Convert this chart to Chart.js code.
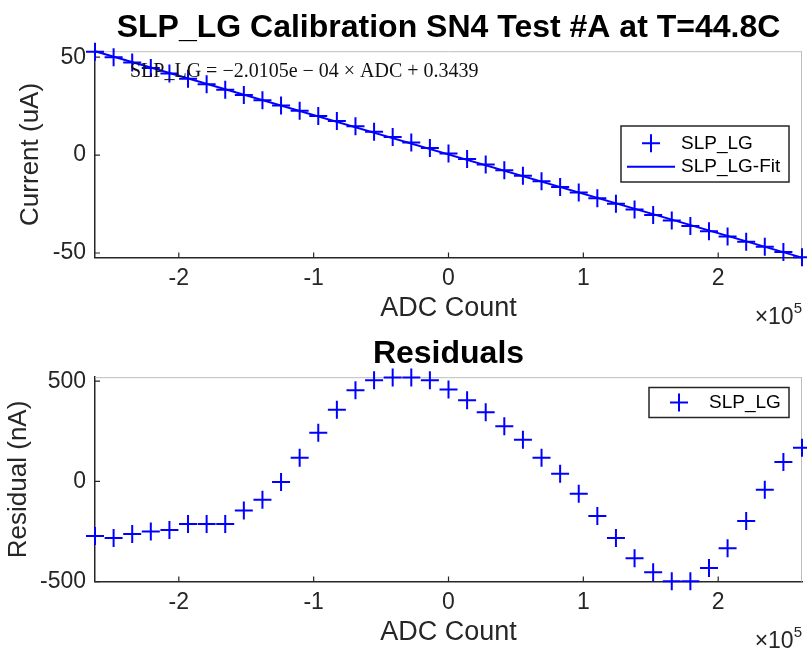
<!DOCTYPE html>
<html>
<head>
<title>SLP_LG Calibration</title>
<script src="https://cdn.jsdelivr.net/npm/chart.js@4.4.0/dist/chart.umd.min.js"></script>
<style>
  body { margin: 0; background: #fff; }
  #wrap { position: relative; width: 807px; height: 650px; }
  canvas { position: absolute; left: 0; }
</style>
</head>
<body>
<div id="wrap">
  <canvas id="calChart" width="807" height="326" style="top:0"></canvas>
  <canvas id="resChart" width="807" height="324" style="top:326px"></canvas>
</div>
<script>
// ADC counts of the calibration steps
const adcCounts = [-262144, -248347, -234550, -220753, -206956, -193159, -179362, -165565, -151768, -137971,
  -124174, -110377, -96580, -82783, -68986, -55189, -41392, -27595, -13798, 0,
  13797, 27594, 41391, 55188, 68985, 82782, 96579, 110376, 124173, 137970,
  151767, 165564, 179361, 193158, 206955, 220752, 234549, 248346, 262143];
// measured current (uA)
const currentUA = [52.78, 49.99, 47.24, 44.48, 41.71, 38.97, 36.19, 33.42, 30.71, 27.99,
  25.31, 22.65, 20.00, 17.35, 14.67, 11.94, 9.18, 6.41, 3.62, 0.80,
  -2.03, -4.86, -7.70, -10.54, -13.41, -16.26, -19.14, -22.02, -24.90, -27.78,
  -30.62, -33.44, -36.22, -38.92, -41.60, -44.24, -46.86, -49.49, -52.19];
// linear fit end points
const fitADC = [-262144, 262143];
const fitUA = [53.05, -52.36];
// residual (nA)
const residualNA = [-273, -283, -262, -250, -242, -212, -212, -212, -145, -92,
  -3, 118, 243, 358, 455, 505, 518, 518, 505, 458,
  405, 345, 275, 208, 118, 38, -62, -173, -283, -383,
  -453, -498, -498, -432, -333, -198, -42, 97, 168];

const xTickValues = [-200000, -100000, 0, 100000, 200000];
const xTickLabels = ['-2', '-1', '0', '1', '2'];
const currentTicks = [-50, 0, 50];
const residualTicks = [-500, 0, 500];
const fitEquation = 'SLP_LG = \u22122.0105e \u2212 04 \u00d7 ADC + 0.3439';

const ink = '#262626';
const blue = '#0000ff';
const sansFont = 'Arial, "Liberation Sans", sans-serif';

function pts(xs, ys) {
  return xs.map((x, i) => ({x: x, y: ys[i]}));
}

// light box on top/right, inward ticks on bottom/left
const matlabFrame = {
  id: 'matlabFrame',
  beforeDatasetsDraw(chart) {
    const {ctx, chartArea: a, scales} = chart;
    ctx.save();
    ctx.strokeStyle = '#bdbdbd';
    ctx.lineWidth = 1;
    ctx.beginPath();
    ctx.moveTo(a.left, a.top + 0.5);
    ctx.lineTo(a.right, a.top + 0.5);
    ctx.moveTo(a.right - 0.5, a.top);
    ctx.lineTo(a.right - 0.5, a.bottom);
    ctx.stroke();
    ctx.strokeStyle = ink;
    ctx.lineWidth = 1.2;
    ctx.beginPath();
    scales.x.ticks.forEach(t => {
      const px = scales.x.getPixelForValue(t.value);
      ctx.moveTo(px, a.bottom);
      ctx.lineTo(px, a.bottom - 5);
    });
    scales.y.ticks.forEach(t => {
      const py = scales.y.getPixelForValue(t.value);
      ctx.moveTo(a.left, py);
      ctx.lineTo(a.left + 5, py);
    });
    ctx.stroke();
    ctx.restore();
  }
};

const boxLegend = {
  id: 'boxLegend',
  afterDatasetsDraw(chart, args, opts) {
    const {ctx, chartArea: a} = chart;
    const left = a.right - opts.right - opts.width;
    const top = a.top + opts.top;
    ctx.save();
    ctx.fillStyle = '#fff';
    ctx.fillRect(left, top, opts.width, opts.height);
    ctx.strokeStyle = ink;
    ctx.lineWidth = 1.5;
    ctx.strokeRect(left, top, opts.width, opts.height);
    ctx.font = '19px ' + sansFont;
    ctx.textBaseline = 'middle';
    chart.data.datasets.forEach((ds, i) => {
      const cy = top + opts.rowTop + i * opts.rowStep;
      const cx = left + 30;
      ctx.strokeStyle = ds.borderColor;
      ctx.lineWidth = ds.borderWidth;
      ctx.beginPath();
      if (ds.showLine) {
        ctx.moveTo(cx - 24, cy);
        ctx.lineTo(cx + 24, cy);
      } else {
        const r = ds.pointRadius;
        ctx.moveTo(cx - r, cy);
        ctx.lineTo(cx + r, cy);
        ctx.moveTo(cx, cy - r);
        ctx.lineTo(cx, cy + r);
      }
      ctx.stroke();
      ctx.fillStyle = '#000';
      ctx.fillText(ds.label, left + 60, cy);
    });
    ctx.restore();
  }
};

// equation text and the x10^5 exponent label
const extraText = {
  id: 'extraText',
  afterDatasetsDraw(chart, args, opts) {
    const {ctx, chartArea: a} = chart;
    ctx.save();
    if (opts.equation) {
      ctx.font = '20px "Liberation Serif", "Times New Roman", serif';
      ctx.fillStyle = '#111';
      ctx.textBaseline = 'middle';
      ctx.fillText(opts.equation, a.left + 35, a.top + 20.5);
    }
    ctx.fillStyle = ink;
    ctx.textBaseline = 'alphabetic';
    ctx.font = '15px ' + sansFont;
    const supW = ctx.measureText('5').width;
    ctx.fillText('5', a.right - supW, a.bottom + 55.6);
    ctx.font = '23px ' + sansFont;
    const baseW = ctx.measureText('\u00d710').width;
    ctx.fillText('\u00d710', a.right - supW - baseW, a.bottom + 66.6);
    ctx.restore();
  }
};

function makeOptions(cfg) {
  return {
    responsive: false,
    animation: false,
    layout: {autoPadding: false, padding: {left: 0, right: 5, top: 0, bottom: 0}},
    plugins: {
      legend: {display: false},
      tooltip: {enabled: false},
      title: {
        display: true,
        text: cfg.title,
        fullSize: false,
        color: '#000',
        font: {family: sansFont, size: 32, weight: 'bold'},
        padding: {top: 8.8, bottom: 4}
      },
      boxLegend: cfg.legend,
      extraText: {equation: cfg.equation}
    },
    scales: {
      x: {
        type: 'linear',
        min: -262144,
        max: 262144,
        afterBuildTicks: s => { s.ticks = xTickValues.map(v => ({value: v})); },
        afterFit: s => { s.height = 68.4; s.paddingLeft = 0; s.paddingRight = 0; },
        grid: {display: false, drawTicks: false},
        border: {display: true, color: ink, width: 1.5},
        ticks: {
          color: ink,
          padding: 7,
          maxRotation: 0,
          font: {family: sansFont, size: 23},
          callback: v => xTickLabels[xTickValues.indexOf(v)]
        },
        title: {
          display: true,
          text: 'ADC Count',
          color: ink,
          font: {family: sansFont, size: 27},
          padding: {top: 0, bottom: 0.8}
        }
      },
      y: {
        type: 'linear',
        min: cfg.yMin,
        max: cfg.yMax,
        afterBuildTicks: s => { s.ticks = cfg.yTicks.map(v => ({value: v})); },
        afterFit: s => { s.width = 95; s.paddingTop = 0; s.paddingBottom = 0; },
        grid: {display: false, drawTicks: false},
        border: {display: true, color: ink, width: 1.5},
        ticks: {
          color: ink,
          padding: 9,
          font: {family: sansFont, size: 23},
          callback: v => String(v)
        },
        title: {
          display: true,
          text: cfg.yTitle,
          color: ink,
          font: {family: sansFont, size: 26},
          padding: {top: cfg.yTitlePad, bottom: 0}
        }
      }
    }
  };
}

new Chart(document.getElementById('calChart'), {
  type: 'scatter',
  data: {
    datasets: [
      {
        label: 'SLP_LG',
        data: pts(adcCounts, currentUA),
        showLine: false,
        pointStyle: 'cross',
        pointRadius: 9,
        borderColor: blue,
        borderWidth: 2,
        clip: false
      },
      {
        label: 'SLP_LG-Fit',
        data: pts(fitADC, fitUA),
        showLine: true,
        pointRadius: 0,
        borderColor: blue,
        borderWidth: 2,
        clip: false
      }
    ]
  },
  options: makeOptions({
    title: 'SLP_LG Calibration SN4 Test #A at T=44.8C',
    yTitle: 'Current (uA)',
    yTitlePad: 15,
    yMin: -52.36,
    yMax: 53.05,
    yTicks: currentTicks,
    equation: fitEquation,
    legend: {right: 13, width: 168, height: 56, top: 74.8, rowTop: 17.3, rowStep: 23.4}
  }),
  plugins: [matlabFrame, boxLegend, extraText]
});

new Chart(document.getElementById('resChart'), {
  type: 'scatter',
  data: {
    datasets: [
      {
        label: 'SLP_LG',
        data: pts(adcCounts, residualNA),
        showLine: false,
        pointStyle: 'cross',
        pointRadius: 9,
        borderColor: blue,
        borderWidth: 2,
        clip: false
      }
    ]
  },
  options: makeOptions({
    title: 'Residuals',
    yTitle: 'Residual (nA)',
    yTitlePad: 3,
    yMin: -500,
    yMax: 520,
    yTicks: residualTicks,
    equation: null,
    legend: {right: 13, width: 140, height: 30, top: 10.3, rowTop: 15, rowStep: 0}
  }),
  plugins: [matlabFrame, boxLegend, extraText]
});
</script>
</body>
</html>
